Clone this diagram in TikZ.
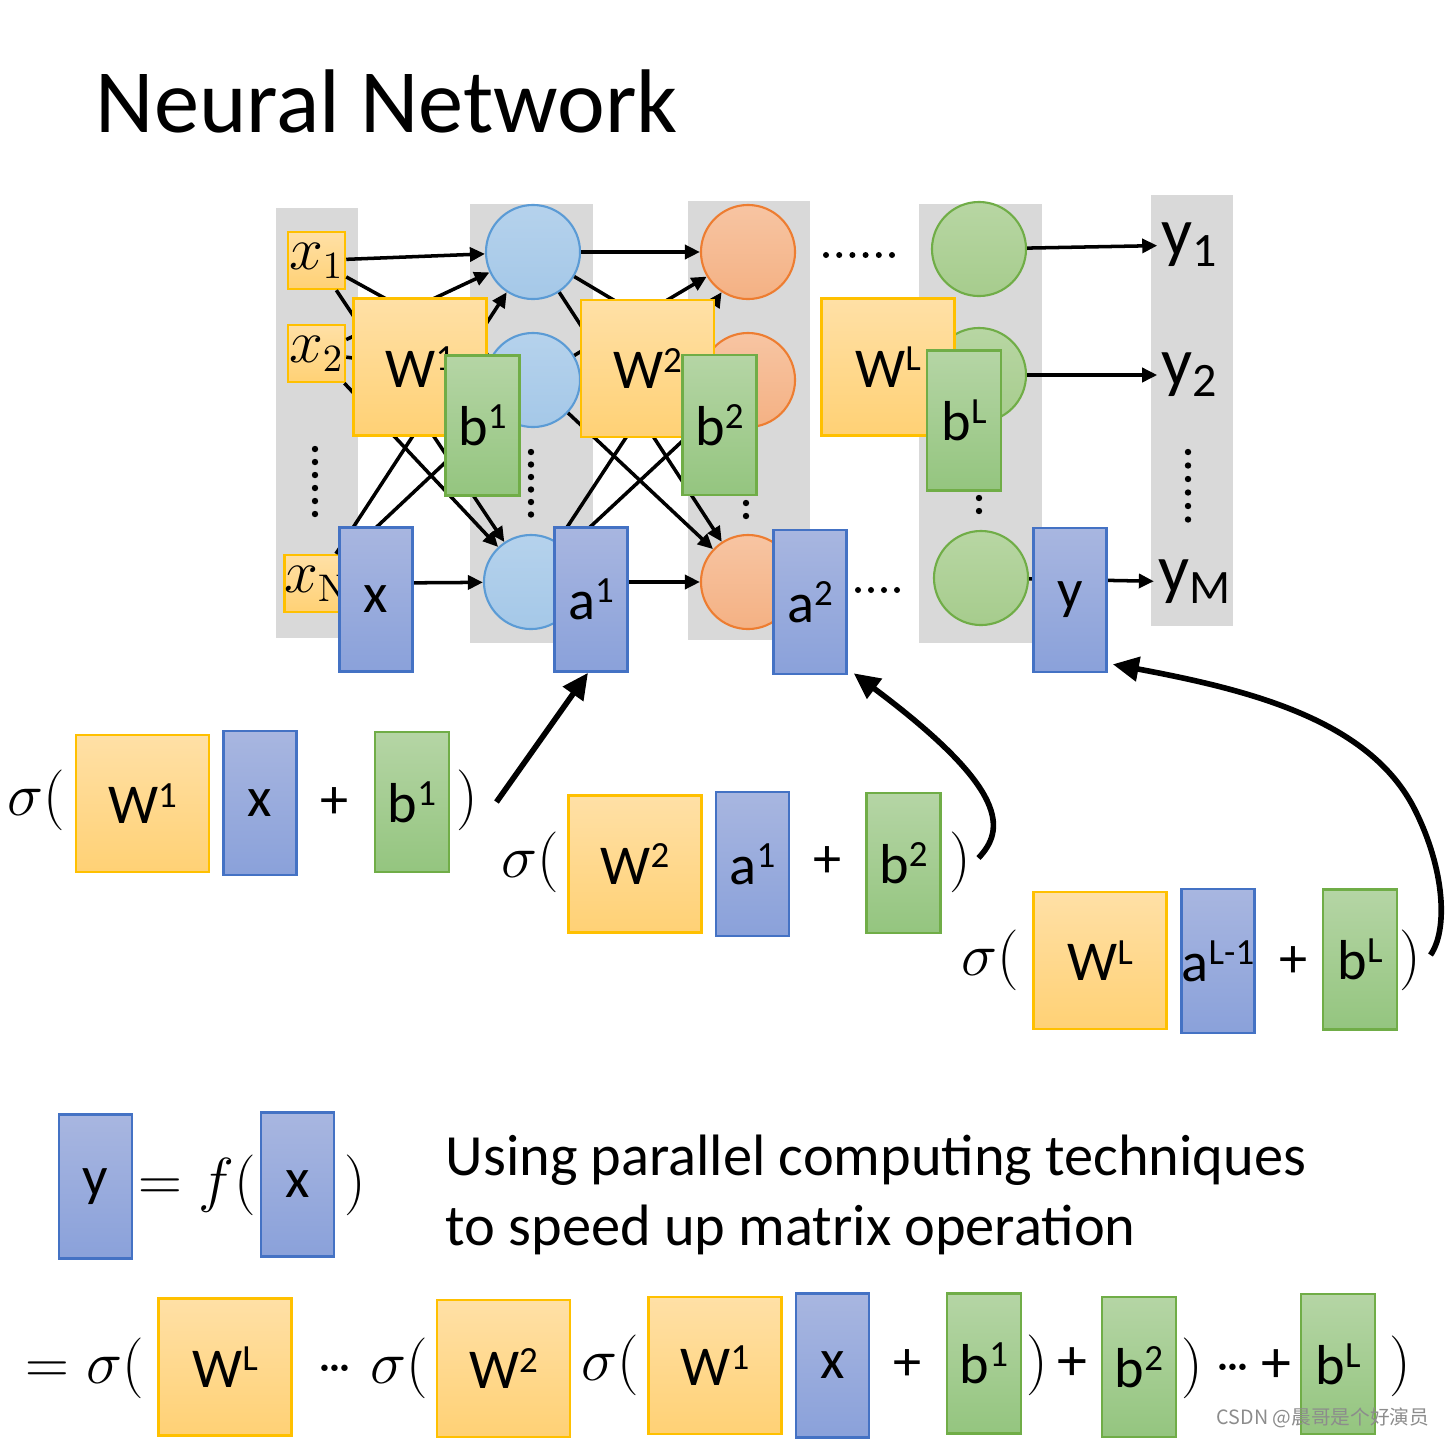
\documentclass[tikz,border=0pt]{standalone}
\usepackage[no-math]{fontspec}
\setmainfont{Carlito}
\newfontfamily\cjk{Noto Sans CJK SC}
\usetikzlibrary{arrows.meta}

\definecolor{goldline}{HTML}{FFC000}
\definecolor{wtop}{HTML}{FFE0A6}
\definecolor{wbot}{HTML}{FFD175}
\definecolor{blueline}{HTML}{4472C4}
\definecolor{atop}{HTML}{A8B6E0}
\definecolor{abot}{HTML}{8AA1DA}
\definecolor{greenline}{HTML}{70AD47}
\definecolor{btop}{HTML}{B5D5A5}
\definecolor{bbot}{HTML}{94C57F}
\definecolor{colgray}{HTML}{D9D9D9}
\definecolor{nblue}{HTML}{5B9BD5}
\definecolor{norange}{HTML}{ED7D31}

\newcommand\lblfont{\fontsize{16}{18}\selectfont}
\newcommand\mathfont{\fontsize{17}{19}\selectfont}
\newcommand\upidx[1]{\raisebox{0.62ex}{\fontsize{10.5}{11}\selectfont #1}}
\newcommand\tdots{{\cdot}\mkern-2mu{\cdot}\mkern-2mu{\cdot}}

\tikzset{
  mat/.style={inner sep=0pt, line width=0.7pt, font=\lblfont},
  wbox/.style={mat, draw=goldline, top color=wtop, bottom color=wbot,
    minimum width=1.33cm, minimum height=1.37cm},
  abox/.style={mat, draw=blueline, top color=atop, bottom color=abot,
    minimum width=0.73cm, minimum height=1.44cm},
  bbox/.style={mat, draw=greenline, top color=btop, bottom color=bbot,
    minimum width=0.74cm, minimum height=1.40cm},
  inbox/.style={draw=goldline, top color=wtop, bottom color=wbot, line width=0.7pt,
    minimum size=0.57cm, inner sep=0pt, font=\fontsize{16}{16}\selectfont},
  neuron/.style={circle, minimum size=0.94cm, inner sep=0pt, line width=0.6pt},
  bluen/.style={neuron, draw=nblue, top color=nblue!45, bottom color=nblue!55},
  orangen/.style={neuron, draw=norange, top color=norange!45, bottom color=norange!60},
  greenn/.style={neuron, draw=greenline, top color=greenline!50, bottom color=greenline!62},
  outlbl/.style={inner sep=1pt, font=\fontsize{19.5}{22}\selectfont},
  edge/.style={-{Triangle[length=0.15cm,width=0.14cm]}, line width=1pt},
  bigarrow/.style={-{Triangle[length=0.26cm,width=0.24cm]}, line width=1.6pt},
  sym/.style={inner sep=0pt, font=\mathfont},
}

\begin{document}
\begin{tikzpicture}[x=0.01cm, y=-0.01cm]
\useasboundingbox (0,0) rectangle (1446,1439);

% title
\node[anchor=base west, inner sep=0pt, font=\fontsize{25.7}{30}\selectfont] (title) at (95,132) {Neural Network};

% layer columns
\fill[colgray] (276,208) rectangle (358,638);
\fill[colgray] (470,204) rectangle (593,643);
\fill[colgray] (688,201) rectangle (810,640);
\fill[colgray] (919,204) rectangle (1042,643);
\fill[colgray] (1151,195) rectangle (1233,626);

% neurons
\node[bluen] (c1) at (533,252) {};
\node[bluen] (c2) at (533,380) {};
\node[bluen] (c3) at (531,582) {};
\node[orangen] (o1) at (748,252) {};
\node[orangen] (o2) at (748,380) {};
\node[orangen] (o3) at (748,582) {};
\node[greenn] (g1) at (979,249) {};
\node[greenn] (g2) at (979,375) {};
\node[greenn] (g3) at (981,578) {};

% inputs and outputs
\node[inbox] (x1) at (316.5,260.5) {$x_1$};
\node[inbox] (x2) at (316.5,353.5) {$x_2$};
\node[inbox] (xN) at (316.5,583.5) {$x_\mathrm{N}$};
\node[outlbl] (y1) at (1190,245) {y\textsubscript{1}};
\node[outlbl] (y2) at (1190,375) {y\textsubscript{2}};
\node[outlbl] (yM) at (1195,582) {y\textsubscript{M}};

% connections
\foreach \s in {x1,x2,xN}
  \foreach \t in {c1,c2,c3}
    \draw[edge] (\s) -- (\t);
\foreach \s in {c1,c2,c3}
  \foreach \t in {o1,o2,o3}
    \draw[edge] (\s) -- (\t);
\draw[edge] (g1) -- (y1);
\draw[edge] (g2) -- (y2);
\draw[edge] (g3) -- (yM);

% matrices over the network
\node[wbox] (W1) at (420,367) {W\upidx{1}};
\node[bbox] (b1) at (482.5,425.5) {b\upidx{1}};
\node[abox] (x) at (376,599.5) {x};
\node[abox] (a1) at (591,599.5) {a\upidx{1}};
\node[wbox] (W2) at (647.5,368.5) {W\upidx{2}};
\node[bbox] (b2) at (719.5,425) {b\upidx{2}};
\node[abox] (a2) at (810,602) {a\upidx{2}};
\node[wbox] (WL) at (888,367) {W\upidx{L}};
\node[bbox] (bL) at (964,420.5) {b\upidx{L}};
\node[abox] (y) at (1070,600) {y};

% dots
\foreach \k in {0,...,5} {
  \fill (315,449+\k*13) circle (3.2);
  \fill (531,452+\k*12.5) circle (3.2);
  \fill (1188,452+\k*13.5) circle (3.2);
  \fill (826+\k*13.2,255) circle (3);
}
\foreach \k in {0,...,3}
  \fill (858+\k*13,590) circle (3);
\fill (746,503) circle (3.2);
\fill (746,516) circle (3.2);
\fill (979,498) circle (3.2);
\fill (979,511) circle (3.2);

% first layer
\node[sym] (s1) at (36,800) {$\sigma($};
\node[wbox] (W1r) at (142.5,803.5) {W\upidx{1}};
\node[abox] (xr) at (260,803) {x};
\node[mat] (p1) at (335,803) {+};
\node[bbox] (b1r) at (412,802) {b\upidx{1}};
\node[sym] (cp1) at (467,800) {$)$};
\draw[bigarrow] ([shift={(18,2)}]cp1.east) -- ([shift={(-3,0)}]a1.south);

% second layer
\node[sym] (s2) at (530,862) {$\sigma($};
\node[wbox] (W2r) at (635,864) {W\upidx{2}};
\node[abox] (a1r) at (752.5,864) {a\upidx{1}};
\node[mat] (p2) at (827,862) {+};
\node[bbox] (b2r) at (903.5,863) {b\upidx{2}};
\node[sym] (cp2) at (960,862) {$)$};
\draw[bigarrow] ([shift={(7,-4)}]cp2.east) .. controls (1005,830) and (1010,790) .. ([shift={(6,-2)}]a2.south east);

% last layer
\node[sym] (s3) at (990,960) {$\sigma($};
\node[wbox] (WLr) at (1100,960.5) {W\upidx{L}};
\node[abox] (aLr) at (1218,961) {a\upidx{L-1}};
\node[mat] (p3) at (1293,962) {+};
\node[bbox] (bLr) at (1360,959.5) {b\upidx{L}};
\node[sym] (cp3) at (1410,960) {$)$};
\draw[bigarrow] ([shift={(9,-5)}]cp3.east) .. controls (1448,930) and (1445,870) .. (1415,810)
  .. controls (1370,720) and (1250,690) .. ([shift={(5,-9)}]y.south east);

% whole network as one function
\node[abox] (yf) at (95.5,1186.5) {y};
\node[sym] (eqf) at (197,1185) {$=f($};
\node[abox] (xf) at (297.5,1184.5) {x};
\node[sym] (cpf) at (355,1185) {$)$};
\node[anchor=base west, inner sep=0pt, font=\fontsize{16.6}{20}\selectfont] (note1) at (445,1175) {Using parallel computing techniques};
\node[anchor=base west, inner sep=0pt, font=\fontsize{16.6}{20}\selectfont] (note2) at (445,1245) {to speed up matrix operation};

% expanded form
\node[sym] (e0) at (85,1368) {$=\sigma($};
\node[wbox] (WLb) at (225,1367) {W\upidx{L}};
\node[sym] (e1) at (372,1368) {$\tdots\;\sigma($};
\node[wbox] (W2b) at (503.5,1368.5) {W\upidx{2}};
\node[sym] (e2) at (610,1365) {$\sigma($};
\node[wbox] (W1b) at (715,1365.5) {W\upidx{1}};
\node[abox] (xb) at (832.5,1365.5) {x};
\node[mat] (e3) at (907,1365) {+};
\node[bbox] (b1b) at (984,1363.5) {b\upidx{1}};
\node[sym] (e4) at (1057,1365) {$)$\,+};
\node[bbox] (b2b) at (1139,1367) {b\upidx{2}};
\node[sym] (e5) at (1192,1368) {$)$};
\node[sym, anchor=east] (e6) at (1292,1366) {$\tdots$\,+};
\node[bbox] (bLb) at (1338,1364) {b\upidx{L}};
\node[sym] (e7) at (1400,1366) {$)$};

\node[anchor=base east, inner sep=0pt, font=\cjk\fontsize{5.6}{7}\selectfont, text=black!45] (mark) at (1430,1424) {CSDN @晨哥是个好演员};
\end{tikzpicture}
\end{document}
